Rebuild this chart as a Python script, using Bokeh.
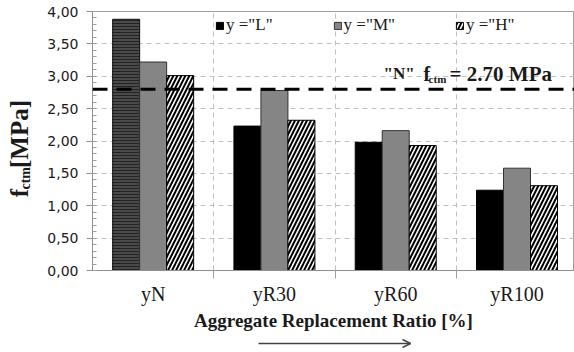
import numpy as np
from bokeh.plotting import figure
from bokeh.layouts import row, column
from bokeh.models import (ColumnDataSource, FixedTicker, CustomJSTickFormatter, Span, Label,
                          Legend, LegendItem, Range1d)
from bokeh.embed import file_html
from bokeh.resources import INLINE

# ---- data ----
groups = ["yN", "yR30", "yR60", "yR100"]
vals_L = [3.88, 2.23, 1.98, 1.24]
vals_M = [3.22, 2.78, 2.16, 1.58]
vals_H = [3.01, 2.32, 1.93, 1.31]
series_names = ['y ="L"', 'y ="M"', 'y ="H"']
ref_level = 2.80
ref_label_N = '"N"'
ref_label_value = "= 2.70 MPa"
y_ticks = [0.0, 0.5, 1.0, 1.5, 2.0, 2.5, 3.0, 3.5, 4.0]
x_title = "Aggregate Replacement Ratio [%]"
y_title_parts = ["f", "ctm", "[MPa]"]

SERIF = "Liberation Serif"
TXT = "#1a1a1a"
centers = np.arange(len(groups)) + 0.5
bw = 0.2226

def bare(fig):
    fig.axis.visible = False
    fig.grid.visible = False
    fig.outline_line_color = None
    fig.background_fill_color = "white"
    fig.border_fill_color = "white"

# ---------------- main chart ----------------
p = figure(width=538, height=336, x_range=Range1d(0, 3.974), y_range=Range1d(0, 4),
           output_backend="svg", toolbar_location=None,
           min_border_left=56, min_border_right=0, min_border_top=11, min_border_bottom=66)
p.background_fill_color = "white"
p.border_fill_color = "white"
p.outline_line_color = "#a0a0a0"

srcL0 = ColumnDataSource(dict(x=centers[:1] - bw, top=vals_L[:1]))
srcL = ColumnDataSource(dict(x=centers[1:] - bw, top=vals_L[1:]))
srcM = ColumnDataSource(dict(x=centers, top=vals_M))
srcH = ColumnDataSource(dict(x=centers + bw, top=vals_H))

p.vbar(x="x", top="top", width=bw, source=srcL0, fill_color="#4a4a4a", line_color="#111111",
       hatch_pattern="horizontal_line", hatch_color="#222222", hatch_scale=3, hatch_weight=1)
rL = p.vbar(x="x", top="top", width=bw, source=srcL, fill_color="black", line_color="black")
rM = p.vbar(x="x", top="top", width=bw, source=srcM, fill_color="#858585", line_color="#333333")
rH = p.vbar(x="x", top="top", width=bw, source=srcH, fill_color="white", line_color="black",
            hatch_pattern="right_diagonal_line", hatch_color="black", hatch_scale=8, hatch_weight=2)

p.add_layout(Span(location=ref_level, dimension="width", line_color="black", line_width=3,
                  line_dash="15 9"))

p.ygrid.ticker = FixedTicker(ticks=y_ticks)
p.ygrid.grid_line_color = "#c0c0c0"
p.ygrid.grid_line_dash = "5 4"
p.xgrid.ticker = FixedTicker(ticks=[1, 2, 3])
p.xgrid.grid_line_color = "#c0c0c0"
p.xgrid.grid_line_dash = "5 4"

ya = p.yaxis[0]
ya.ticker = FixedTicker(ticks=y_ticks, minor_ticks=list(np.round(np.arange(0, 4.001, 0.1), 2)))
ya.formatter = CustomJSTickFormatter(code="return tick.toFixed(2).replace('.', ',');")
ya.major_label_text_font = "DejaVu Sans"
ya.major_label_text_font_size = "14px"
ya.major_label_text_color = TXT
ya.axis_line_color = "#909090"
ya.major_tick_line_color = "#909090"
ya.minor_tick_line_color = "#a0a0a0"
ya.major_tick_out = 6
ya.major_tick_in = 0
ya.minor_tick_in = 4
ya.minor_tick_out = 0
ya.major_label_standoff = 8

xa = p.xaxis[0]
xa.ticker = FixedTicker(ticks=list(centers), minor_ticks=[1, 2, 3])
xa.formatter = CustomJSTickFormatter(args=dict(labels=groups),
                                     code="return labels[Math.floor(tick)];")
xa.major_label_text_font = SERIF
xa.major_label_text_font_size = "20px"
xa.major_label_text_color = TXT
xa.major_tick_out = 0
xa.major_tick_in = 0
xa.minor_tick_out = 8
xa.minor_tick_in = 0
xa.minor_tick_line_color = "#a0a0a0"
xa.axis_line_color = "#909090"
xa.major_label_standoff = 4
xa.axis_label = x_title
xa.axis_label_text_font = SERIF
xa.axis_label_text_font_style = "bold"
xa.axis_label_text_font_size = "19px"
xa.axis_label_text_color = TXT
xa.axis_label_standoff = 2

legend = Legend(items=[LegendItem(label=series_names[0], renderers=[rL]),
                       LegendItem(label=series_names[1], renderers=[rM]),
                       LegendItem(label=series_names[2], renderers=[rH])],
                orientation="horizontal", location=(123, 235),
                glyph_width=9, glyph_height=9, label_standoff=2, spacing=60,
                padding=0, margin=0, border_line_color=None, background_fill_alpha=0,
                label_text_font=SERIF, label_text_font_size="17px", label_text_color=TXT)
p.add_layout(legend, "center")

ax = 2.40
ay = 3.04
common = dict(text_font=SERIF, text_font_style="bold", text_color=TXT, text_baseline="middle")
p.add_layout(Label(x=ax, y=ay, text=ref_label_N, text_font_size="17px", **common))
p.add_layout(Label(x=ax, y=ay, x_offset=40, text="f", text_font_size="20px", **common))
p.add_layout(Label(x=ax, y=ay, x_offset=45, y_offset=-5, text="ctm", text_font_size="11px", **common))
p.add_layout(Label(x=ax, y=ay, x_offset=66, text=ref_label_value, text_font_size="21px", **common))

# ---------------- y axis title panel ----------------
lf = figure(width=36, height=336, x_range=Range1d(0, 36), y_range=Range1d(0, 336),
            output_backend="svg", toolbar_location=None,
            min_border_left=0, min_border_right=0, min_border_top=0, min_border_bottom=0)
bare(lf)
base_y = 336 - 241
ycommon = dict(angle=np.pi / 2, text_font=SERIF, text_font_style="bold", text_color=TXT,
               text_baseline="middle", text_align="left")
lf.add_layout(Label(x=19, y=base_y, text=y_title_parts[0], text_font_size="25px", **ycommon))
lf.add_layout(Label(x=25, y=base_y + 10, text=y_title_parts[1], text_font_size="14px", **ycommon))
lf.add_layout(Label(x=19, y=base_y + 38, text=y_title_parts[2], text_font_size="25px", **ycommon))

# ---------------- arrow strip below the chart ----------------
bf = figure(width=574, height=16, x_range=Range1d(0, 574), y_range=Range1d(0, 16),
            output_backend="svg", toolbar_location=None,
            min_border_left=0, min_border_right=0, min_border_top=0, min_border_bottom=0)
bare(bf)
ay_ = 16 - (343 - 336)
bf.segment(x0=[258, 402, 402], y0=[ay_, ay_ + 4, ay_ - 4], x1=[410, 410, 410], y1=[ay_, ay_, ay_],
           line_color="#444444", line_width=1.5)

layout = column(row(lf, p, spacing=0), bf, spacing=0)
open("out.html", "w").write(file_html(layout, INLINE))
